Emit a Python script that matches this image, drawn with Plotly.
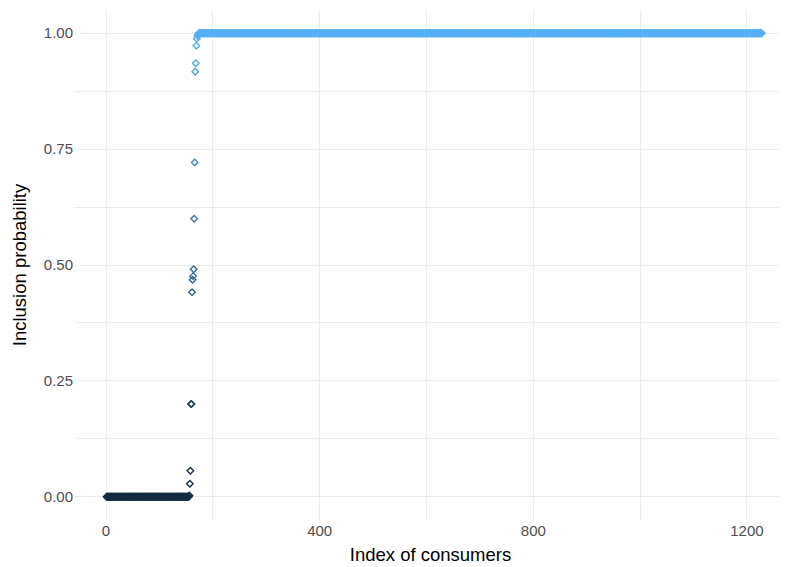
import plotly.graph_objects as go

# ---- data ----
n_total = 1228
low_values = [0.0] * 155
transition_values = [0.003, 0.028, 0.056, 0.20, 0.20, 0.441, 0.468, 0.476, 0.491,
                     0.600, 0.721, 0.917, 0.935, 0.973, 0.988, 0.994, 0.997, 0.999]
high_values = [1.0] * (n_total - len(low_values) - len(transition_values))

y_vals = low_values + transition_values + high_values
x_vals = list(range(1, len(y_vals) + 1))

x_ticks = [0, 400, 800, 1200]
y_ticks = [0.0, 0.25, 0.5, 0.75, 1.0]
y_tick_labels = ["0.00", "0.25", "0.50", "0.75", "1.00"]

colorscale = [[0.0, "#132B43"], [0.25, "#234A6D"], [0.5, "#336A98"], [0.75, "#448DC6"], [1.0, "#56B1F7"]]

fig = go.Figure(
    go.Scatter(
        x=x_vals, y=y_vals, mode="markers",
        marker=dict(symbol="diamond-open", size=5,
                    color=y_vals, colorscale=colorscale, cmin=0, cmax=1,
                    line=dict(width=1.4), showscale=False),
        hoverinfo="x+y",
    )
)

grid = "#EBEBEB"
fig.update_layout(
    width=787, height=567,
    margin=dict(l=66, r=8, t=2, b=55, autoexpand=False),
    paper_bgcolor="white", plot_bgcolor="white",
    font=dict(family="Liberation Sans, Arial, sans-serif", color="#4D4D4D", size=15),
    showlegend=False,
    xaxis=dict(
        range=[-60, 1275], tickvals=x_ticks, ticktext=[str(t) for t in x_ticks],
        showgrid=True, gridcolor=grid, gridwidth=1.1, zeroline=False, showline=False,
        ticks="", ticklen=0, automargin=False,
        minor=dict(dtick=200, tick0=0, showgrid=True, gridcolor=grid, gridwidth=0.6),
        title=dict(text="Index of consumers", font=dict(size=18.5, color="black"), standoff=10),
    ),
    yaxis=dict(
        range=[-0.05, 1.05], tickvals=y_ticks, ticktext=y_tick_labels,
        showgrid=True, gridcolor=grid, gridwidth=1.1, zeroline=False, showline=False,
        ticks="", ticklen=0, automargin=False,
        minor=dict(dtick=0.125, tick0=0, showgrid=True, gridcolor=grid, gridwidth=0.6),
        title=dict(text="Inclusion probability", font=dict(size=18.5, color="black"), standoff=12),
    ),
)

fig.write_html("out.html")
